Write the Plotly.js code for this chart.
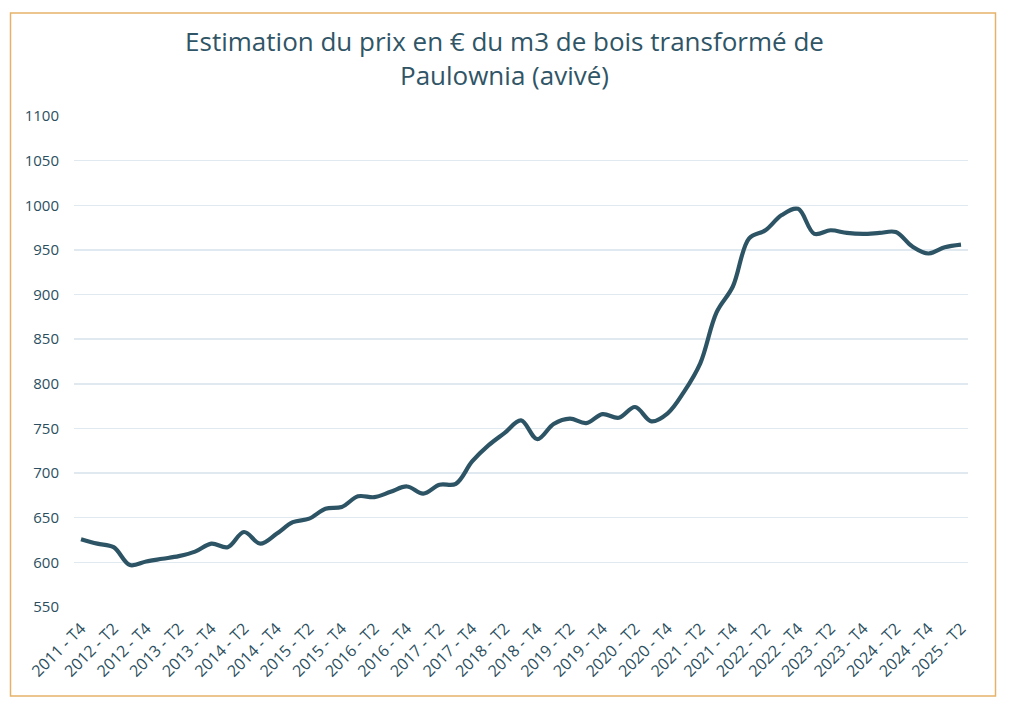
<!DOCTYPE html>
<html>
<head>
<meta charset="utf-8">
<script src="https://cdn.plot.ly/plotly-3.0.1.min.js"></script>
<style>
  html, body { margin: 0; padding: 0; background: #ffffff; }
  #chart { width: 1009px; height: 716px; }
</style>
</head>
<body>
<div id="chart"></div>
<script>
// Quarter labels (2011 T4 -> 2025 T2)
var quarters = [
  "2011 - T4",
  "2012 - T1","2012 - T2","2012 - T3","2012 - T4",
  "2013 - T1","2013 - T2","2013 - T3","2013 - T4",
  "2014 - T1","2014 - T2","2014 - T3","2014 - T4",
  "2015 - T1","2015 - T2","2015 - T3","2015 - T4",
  "2016 - T1","2016 - T2","2016 - T3","2016 - T4",
  "2017 - T1","2017 - T2","2017 - T3","2017 - T4",
  "2018 - T1","2018 - T2","2018 - T3","2018 - T4",
  "2019 - T1","2019 - T2","2019 - T3","2019 - T4",
  "2020 - T1","2020 - T2","2020 - T3","2020 - T4",
  "2021 - T1","2021 - T2","2021 - T3","2021 - T4",
  "2022 - T1","2022 - T2","2022 - T3","2022 - T4",
  "2023 - T1","2023 - T2","2023 - T3","2023 - T4",
  "2024 - T1","2024 - T2","2024 - T3","2024 - T4",
  "2025 - T1","2025 - T2"
];

// Estimated price (EUR per m3)
var prices = [
  626,
  621, 617, 597, 601,
  604, 607, 612, 621,
  617, 634, 621, 632,
  645, 649, 660, 662,
  674, 673, 679, 685,
  677, 687, 688, 713,
  731, 745, 759, 738,
  755, 761, 756, 766,
  762, 774, 758, 767,
  791, 823, 880, 909,
  963, 972, 989, 996,
  968, 972, 969, 968,
  969, 970, 954, 946,
  953, 956
];

// Tick labels shown every two quarters
var tickLabels = [
  "2011 - T4","2012 - T2","2012 - T4","2013 - T2","2013 - T4","2014 - T2","2014 - T4",
  "2015 - T2","2015 - T4","2016 - T2","2016 - T4","2017 - T2","2017 - T4","2018 - T2",
  "2018 - T4","2019 - T2","2019 - T4","2020 - T2","2020 - T4","2021 - T2","2021 - T4",
  "2022 - T2","2022 - T4","2023 - T2","2023 - T4","2024 - T2","2024 - T4","2025 - T2"
];

var yTicks = [550, 600, 650, 700, 750, 800, 850, 900, 950, 1000, 1050, 1100];

var textColor = "#2b4f60";
var fontFamily = "'Open Sans', 'Fira Sans', sans-serif";

var trace = {
  x: quarters,
  y: prices,
  type: "scatter",
  mode: "lines",
  line: { color: "#2d5465", width: 4.2, shape: "spline", smoothing: 1 },
  hoverinfo: "x+y"
};

var W = 1009, H = 716;
var mL = 74, mR = 41, mT = 116, mB = 109;
var pw = W - mL - mR, ph = H - mT - mB;
function px(x) { return (x - mL) / pw; }
function py(y) { return (H - mB - y) / ph; }

var layout = {
  width: W,
  height: H,
  margin: { l: mL, r: mR, t: mT, b: mB, pad: 0 },
  paper_bgcolor: "#ffffff",
  plot_bgcolor: "#ffffff",
  showlegend: false,
  font: { family: fontFamily, color: textColor },
  title: {
    text: "Estimation du prix en € du m3 de bois transformé de<br>Paulownia (avivé)",
    font: { family: fontFamily, size: 26, color: "#2f5566" },
    x: 0.5,
    xanchor: "center",
    xref: "container",
    y: 1 - 51 / H,
    yanchor: "top",
    yref: "container"
  },
  xaxis: {
    type: "category",
    range: [-0.43, quarters.length - 1 + 0.43],
    tickmode: "array",
    tickvals: tickLabels,
    ticktext: tickLabels,
    tickangle: -45,
    tickfont: { family: fontFamily, size: 16, color: textColor },
    showgrid: false,
    showline: false,
    zeroline: false,
    ticks: "",
    ticklabelstandoff: 8
  },
  yaxis: {
    range: [550, 1100],
    tickmode: "array",
    tickvals: yTicks,
    ticktext: yTicks.map(String),
    tickfont: { family: fontFamily, size: 15, color: textColor },
    showgrid: true,
    gridcolor: "#dfe9ef",
    gridwidth: 1.5,
    zeroline: false,
    showline: false,
    ticks: "",
    ticklabelstandoff: 14
  },
  shapes: [
    {
      type: "rect",
      xref: "paper", yref: "paper",
      x0: px(10.5), x1: px(995.5),
      y0: py(696), y1: py(13),
      line: { color: "#e6b26a", width: 1.5 },
      fillcolor: "rgba(0,0,0,0)",
      layer: "above"
    }
  ]
};

Plotly.newPlot("chart", [trace], layout, { displayModeBar: false, staticPlot: true });
</script>
</body>
</html>
